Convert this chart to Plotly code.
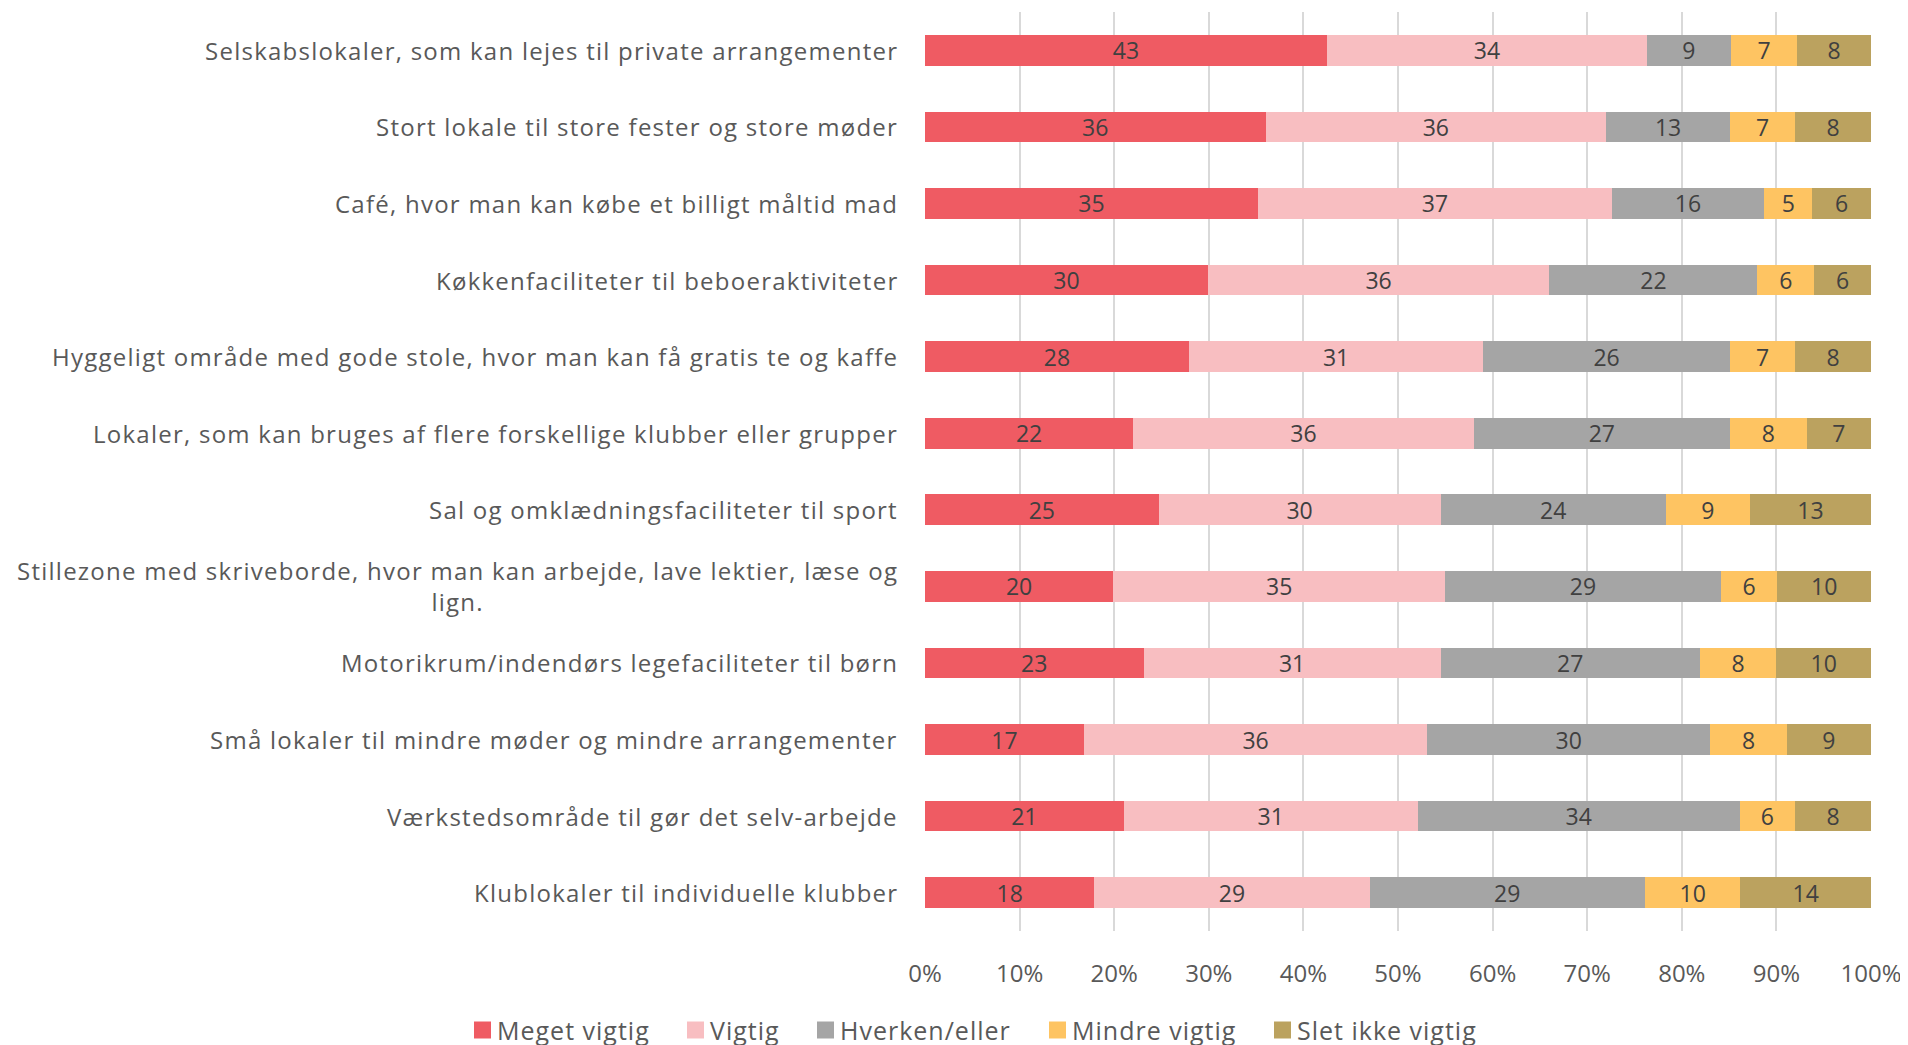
import plotly.graph_objects as go

categories = [
    "Selskabslokaler, som kan lejes til private arrangementer",
    "Stort lokale til store fester og store møder",
    "Café, hvor man kan købe et billigt måltid mad",
    "Køkkenfaciliteter til beboeraktiviteter",
    "Hyggeligt område med gode stole, hvor man kan få gratis te og kaffe",
    "Lokaler, som kan bruges af flere forskellige klubber eller grupper",
    "Sal og omklædningsfaciliteter til sport",
    "Stillezone med skriveborde, hvor man kan arbejde, lave lektier, læse og<br>lign.",
    "Motorikrum/indendørs legefaciliteter til børn",
    "Små lokaler til mindre møder og mindre arrangementer",
    "Værkstedsområde til gør det selv-arbejde",
    "Klublokaler til individuelle klubber",
]

meget_vigtig = [42.5, 36.0, 35.2, 29.9, 27.9, 22.0, 24.7, 19.9, 23.1, 16.8, 21.0, 17.9]
vigtig = [33.8, 36.0, 37.4, 36.1, 31.1, 36.0, 29.8, 35.1, 31.4, 36.3, 31.1, 29.1]
hverken = [8.9, 13.1, 16.1, 22.0, 26.1, 27.1, 23.8, 29.1, 27.4, 29.9, 34.0, 29.1]
mindre_vigtig = [7.0, 6.9, 5.1, 6.0, 6.9, 8.1, 8.9, 6.0, 8.1, 8.1, 5.9, 10.1]
slet_ikke = [7.8, 8.0, 6.2, 6.0, 8.0, 6.8, 12.8, 9.9, 10.0, 8.9, 8.0, 13.8]

series_names = ["Meget vigtig", "Vigtig", "Hverken/eller", "Mindre vigtig", "Slet ikke vigtig"]
series_values = [meget_vigtig, vigtig, hverken, mindre_vigtig, slet_ikke]
colors = ["#EF5B63", "#F8BEC1", "#A5A5A5", "#FEC462", "#BBA25F"]

tick_vals = [0, 10, 20, 30, 40, 50, 60, 70, 80, 90, 100]
tick_text = ["0%", "10%", "20%", "30%", "40%", "50%", "60%", "70%", "80%", "90%", "100%"]

FONT = "Open Sans"

# plot-area geometry in page pixels (page has an 8px body margin)
PLOT_X0, PLOT_X1 = 925, 1871
PLOT_Y0, PLOT_Y1 = 12, 931
# legend marker left edges (page pixels) for the hand-drawn legend
legend_marker_x = [474, 687, 817, 1049, 1274]
legend_y = 1030
legend_marker_size = 17


def px_to_paper_x(px):
    return (px - PLOT_X0) / (PLOT_X1 - PLOT_X0)


def px_to_paper_y(py):
    return (PLOT_Y1 - py) / (PLOT_Y1 - PLOT_Y0)


def spaced(txt, px):
    return "<br>".join(
        f'<span style="letter-spacing:{px}px">{line}</span>' for line in txt.split("<br>")
    )


fig = go.Figure()
for name, vals, col in zip(series_names, series_values, colors):
    fig.add_trace(go.Bar(
        y=categories, x=vals, name=name, orientation="h",
        marker=dict(color=col, line=dict(width=0)),
        text=vals, texttemplate="%{x:.0f}", textposition="inside",
        insidetextanchor="middle", textangle=0,
        textfont=dict(family=FONT, size=23, color="#404040"),
        constraintext="none", showlegend=False,
    ))

annotations = []
for c in categories:
    annotations.append(dict(
        x=-0.0265, xref="paper", y=c, yref="y", xanchor="right", yanchor="middle",
        text=spaced(c, 1.25), showarrow=False, align="center",
        font=dict(family=FONT, size=24, color="#595959"),
    ))

shapes = []
for name, col, mx in zip(series_names, colors, legend_marker_x):
    h = legend_marker_size / 2
    shapes.append(dict(
        type="rect", xref="paper", yref="paper",
        x0=px_to_paper_x(mx), x1=px_to_paper_x(mx + legend_marker_size),
        y0=px_to_paper_y(legend_y - h), y1=px_to_paper_y(legend_y + h),
        fillcolor=col, line=dict(width=0),
    ))
    annotations.append(dict(
        x=px_to_paper_x(mx + legend_marker_size + 4), xref="paper",
        y=px_to_paper_y(legend_y), yref="paper",
        xanchor="left", yanchor="middle", showarrow=False,
        text=spaced(name, 1.0),
        font=dict(family=FONT, size=25, color="#595959"),
    ))

fig.update_layout(
    barmode="stack",
    bargap=0.6,
    width=1908, height=1045,
    margin=dict(l=917, r=45, t=4, b=122, autoexpand=False),
    plot_bgcolor="white", paper_bgcolor="white",
    showlegend=False,
    annotations=annotations,
    shapes=shapes,
)
fig.update_xaxes(
    range=[0, 100], tickvals=tick_vals, ticktext=tick_text,
    showgrid=True, gridcolor="#D9D9D9", gridwidth=1.5,
    zeroline=False, showline=False, automargin=False,
    tickfont=dict(family=FONT, size=24, color="#595959"),
    ticks="", ticklabelstandoff=26,
)
fig.update_yaxes(
    autorange="reversed", showticklabels=False, showgrid=False,
    zeroline=False, showline=False, ticks="", automargin=False,
)

fig.write_html("out.html")
